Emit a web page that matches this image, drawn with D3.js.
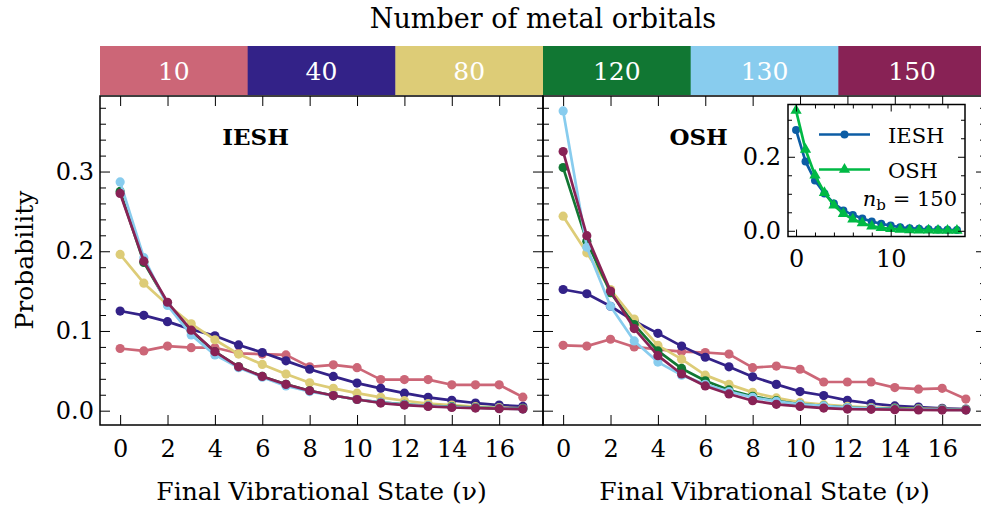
<!DOCTYPE html>
<html>
<head>
<meta charset="utf-8">
<script src="https://cdn.jsdelivr.net/npm/d3@7"></script>
<style>
  body { margin: 0; background: #fff; }
  svg { display: block; font-family: "DejaVu Serif", serif; }
</style>
</head>
<body>
<svg id="chart" width="981" height="510"></svg>
<script>
// --- Data ---
const states = [0, 1, 2, 3, 4, 5, 6, 7, 8, 9, 10, 11, 12, 13, 14, 15, 16, 17];
const orbitals = ["10", "40", "80", "120", "130", "150"];
const orbitalColors = ["#CC6677", "#332288", "#DDCC77", "#117733", "#88CCEE", "#882255"];

// IESH panel
const iesh10  = [0.078, 0.075, 0.081, 0.079, 0.079, 0.072, 0.071, 0.070, 0.055, 0.0575, 0.054, 0.039, 0.039, 0.039, 0.0325, 0.0325, 0.0325, 0.017];
const iesh40  = [0.125, 0.1196, 0.1117, 0.102, 0.094, 0.0825, 0.073, 0.0625, 0.052, 0.043, 0.0346, 0.028, 0.022, 0.0167, 0.013, 0.0096, 0.007, 0.0054];
const iesh80  = [0.196, 0.160, 0.133, 0.109, 0.089, 0.071, 0.058, 0.046, 0.035, 0.028, 0.022, 0.0167, 0.0125, 0.009, 0.007, 0.005, 0.004, 0.003];
const iesh120 = [0.275, 0.186, 0.135, 0.100, 0.074, 0.055, 0.043, 0.033, 0.025, 0.019, 0.014, 0.0104, 0.008, 0.006, 0.005, 0.004, 0.003, 0.0025];
const iesh130 = [0.287, 0.192, 0.132, 0.095, 0.070, 0.054, 0.042, 0.031, 0.024, 0.019, 0.014, 0.0104, 0.0075, 0.006, 0.0046, 0.0037, 0.003, 0.002];
const iesh150 = [0.2725, 0.1875, 0.136, 0.101, 0.074, 0.055, 0.043, 0.033, 0.025, 0.019, 0.014, 0.0096, 0.007, 0.0054, 0.004, 0.0033, 0.0025, 0.002];

// OSH panel
const osh10  = [0.082, 0.081, 0.0896, 0.080, 0.077, 0.074, 0.073, 0.071, 0.054, 0.056, 0.052, 0.036, 0.036, 0.036, 0.029, 0.027, 0.028, 0.0146];
const osh40  = [0.152, 0.1467, 0.131, 0.1125, 0.097, 0.081, 0.067, 0.055, 0.0425, 0.033, 0.024, 0.019, 0.013, 0.009, 0.006, 0.0046, 0.003, 0.002];
const osh80  = [0.244, 0.198, 0.152, 0.115, 0.082, 0.0646, 0.0446, 0.033, 0.023, 0.016, 0.0104, 0.0075, 0.0054, 0.004, 0.0033, 0.0025, 0.002, 0.0017];
const osh120 = [0.305, 0.2125, 0.148, 0.108, 0.075, 0.053, 0.0375, 0.026, 0.018, 0.0125, 0.008, 0.006, 0.004, 0.003, 0.0025, 0.002, 0.0017, 0.0013];
const osh130 = [0.376, 0.205, 0.131, 0.0875, 0.061, 0.0446, 0.033, 0.024, 0.0167, 0.0117, 0.008, 0.006, 0.004, 0.003, 0.002, 0.0017, 0.0013, 0.001];
const osh150 = [0.325, 0.2196, 0.150, 0.103, 0.069, 0.046, 0.031, 0.021, 0.0125, 0.008, 0.0054, 0.0033, 0.002, 0.0017, 0.0013, 0.001, 0.0008, 0.0008];

const ieshSeries = [iesh10, iesh40, iesh80, iesh120, iesh130, iesh150];
const oshSeries = [osh10, osh40, osh80, osh120, osh130, osh150];

// Tick values
const xTicks = [0, 2, 4, 6, 8, 10, 12, 14, 16];
const yTicks = [0, 0.1, 0.2, 0.3];
const yMinorTicks = [0.02, 0.04, 0.06, 0.08, 0.12, 0.14, 0.16, 0.18, 0.22, 0.24, 0.26, 0.28, 0.32, 0.34, 0.36, 0.38];
const insetXTicks = [0, 10];
const insetXMinor = [2, 4, 6, 8, 12, 14, 16];
const insetYTicks = [0, 0.2];
const insetYMinor = [0.05, 0.1, 0.15, 0.25, 0.3];

// --- Layout ---
const svg = d3.select("#chart");
const plotTop = 96, plotBottom = 425;
const panels = [
    { x0: 100, x1: 543, title: "IESH", series: ieshSeries, yLabels: true },
    { x0: 543, x1: 986, title: "OSH", series: oshSeries, yLabels: false }
];
const tickFont = 24;

// matplotlib-like 5% margins
function padded(lo, hi) {
    const m = (hi - lo) * 0.05;
    return [lo - m, hi + m];
}
const allVals = ieshSeries.concat(oshSeries).flat();
const xDomain = padded(d3.min(states), d3.max(states));
const yDomain = padded(d3.min(allVals), d3.max(allVals));

function styleTickText(sel, size) {
    sel.selectAll("text")
        .attr("font-family", "DejaVu Serif, serif")
        .attr("font-size", size)
        .attr("fill", "#000");
    sel.selectAll("line").attr("stroke", "#000").attr("stroke-width", 1);
}

// inward ticks on all four sides
function drawAxes(g, x, y, w, h, o) {
    const bx = g.append("g").attr("transform", `translate(0,${h})`)
        .call(d3.axisBottom(x).tickValues(o.xMajor).tickSize(-o.major).tickPadding(o.xPad)
            .tickFormat(o.xLabels ? d3.format("d") : ""));
    styleTickText(bx, tickFont);
    styleTickText(g.append("g").call(d3.axisTop(x).tickValues(o.xMajor).tickSize(-o.major).tickFormat("")));
    if (o.xMinor) {
        styleTickText(g.append("g").attr("transform", `translate(0,${h})`)
            .call(d3.axisBottom(x).tickValues(o.xMinor).tickSize(-o.minor).tickFormat("")));
        styleTickText(g.append("g").call(d3.axisTop(x).tickValues(o.xMinor).tickSize(-o.minor).tickFormat("")));
    }
    const ly = g.append("g")
        .call(d3.axisLeft(y).tickValues(o.yMajor).tickSize(-o.major).tickPadding(o.yPad)
            .tickFormat(o.yLabels ? d3.format(".1f") : ""));
    styleTickText(ly, tickFont);
    styleTickText(g.append("g").call(d3.axisLeft(y).tickValues(o.yMinor).tickSize(-o.minor).tickFormat("")));
    styleTickText(g.append("g").attr("transform", `translate(${w},0)`)
        .call(d3.axisRight(y).tickValues(o.yMajor).tickSize(-o.major).tickFormat("")));
    styleTickText(g.append("g").attr("transform", `translate(${w},0)`)
        .call(d3.axisRight(y).tickValues(o.yMinor).tickSize(-o.minor).tickFormat("")));
    g.selectAll(".domain").remove();
    g.append("rect")
        .attr("width", w).attr("height", h)
        .attr("fill", "none").attr("stroke", "#000").attr("stroke-width", 1.5);
}

// --- Panels ---
panels.forEach(p => {
    const w = p.x1 - p.x0, h = plotBottom - plotTop;
    const g = svg.append("g").attr("transform", `translate(${p.x0},${plotTop})`);
    const x = d3.scaleLinear().domain(xDomain).range([0, w]);
    const y = d3.scaleLinear().domain(yDomain).range([h, 0]);

    const line = d3.line().x((d, i) => x(states[i])).y(d => y(d));
    p.series.forEach((vals, k) => {
        const sg = g.append("g");
        sg.append("path").datum(vals)
            .attr("d", line)
            .attr("fill", "none")
            .attr("stroke", orbitalColors[k])
            .attr("stroke-width", 2.7)
            .attr("stroke-linejoin", "round");
        sg.selectAll("circle").data(vals).enter().append("circle")
            .attr("cx", (d, i) => x(states[i]))
            .attr("cy", d => y(d))
            .attr("r", 4.6)
            .attr("fill", orbitalColors[k]);
    });

    drawAxes(g, x, y, w, h, {
        xMajor: xTicks, yMajor: yTicks, yMinor: yMinorTicks,
        major: 10, minor: 6, xPad: 15, yPad: 6,
        xLabels: true, yLabels: p.yLabels
    });

    g.append("text")
        .attr("x", x(5.72)).attr("y", 145 - plotTop)
        .attr("text-anchor", "middle")
        .attr("font-size", 23).attr("font-weight", "bold")
        .text(p.title);

    svg.append("text")
        .attr("x", (p.x0 + p.x1) / 2)
        .attr("y", 500)
        .attr("text-anchor", "middle")
        .attr("font-size", 25)
        .text("Final Vibrational State (ν)");
});

// y label
svg.append("text")
    .attr("transform", "translate(33,260) rotate(-90)")
    .attr("text-anchor", "middle")
    .attr("font-size", 25)
    .text("Probability");

// --- Colour bar ---
const cb = d3.scaleBand().domain(orbitals).range([100, 986]);
const cbg = svg.append("g");
cbg.selectAll("rect").data(orbitals).enter().append("rect")
    .attr("x", d => cb(d)).attr("y", 46)
    .attr("width", cb.bandwidth() + 0.5).attr("height", 49)
    .attr("fill", (d, i) => orbitalColors[i]);
cbg.selectAll("text").data(orbitals).enter().append("text")
    .attr("x", d => cb(d) + cb.bandwidth() / 2)
    .attr("y", 80)
    .attr("text-anchor", "middle")
    .attr("font-size", 25)
    .attr("fill", "#fff")
    .text(d => d);
svg.append("text")
    .attr("x", 543).attr("y", 28)
    .attr("text-anchor", "middle")
    .attr("font-size", 27)
    .text("Number of metal orbitals");

// --- Inset (n_b = 150) ---
const inset = { x0: 788, x1: 965, y0: 104.5, y1: 236.5 };
const iw = inset.x1 - inset.x0, ih = inset.y1 - inset.y0;
const ig = svg.append("g").attr("transform", `translate(${inset.x0},${inset.y0})`);
ig.append("rect").attr("width", iw).attr("height", ih).attr("fill", "#fff");
const ix = d3.scaleLinear().domain(xDomain).range([0, iw]);
const iy = d3.scaleLinear().domain(padded(d3.min(iesh150.concat(osh150)), d3.max(iesh150.concat(osh150)))).range([ih, 0]);
const iline = d3.line().x((d, i) => ix(states[i])).y(d => iy(d));
const ieshBlue = "#0C5DA5", oshGreen = "#00B945";

ig.append("path").datum(iesh150).attr("d", iline)
    .attr("fill", "none").attr("stroke", ieshBlue).attr("stroke-width", 2.7);
ig.selectAll(".ic").data(iesh150).enter().append("circle").attr("class", "ic")
    .attr("cx", (d, i) => ix(states[i])).attr("cy", d => iy(d)).attr("r", 4)
    .attr("fill", ieshBlue);
ig.append("path").datum(osh150).attr("d", iline)
    .attr("fill", "none").attr("stroke", oshGreen).attr("stroke-width", 2.7);
const tri = d3.symbol().type(d3.symbolTriangle).size(55);
ig.selectAll(".it").data(osh150).enter().append("path").attr("class", "it")
    .attr("transform", (d, i) => `translate(${ix(states[i])},${iy(d)})`)
    .attr("d", tri).attr("fill", oshGreen);

drawAxes(ig, ix, iy, iw, ih, {
    xMajor: insetXTicks, xMinor: insetXMinor, yMajor: insetYTicks, yMinor: insetYMinor,
    major: 7, minor: 4, xPad: 13, yPad: 7,
    xLabels: true, yLabels: true
});

// legend
const legend = [
    { label: "IESH", color: ieshBlue, shape: "circle", y: 134.5 },
    { label: "OSH", color: oshGreen, shape: "triangle", y: 169.5 }
];
legend.forEach(l => {
    svg.append("line").attr("x1", 819).attr("x2", 870).attr("y1", l.y).attr("y2", l.y)
        .attr("stroke", l.color).attr("stroke-width", 2.7);
    if (l.shape === "circle") {
        svg.append("circle").attr("cx", 844.5).attr("cy", l.y).attr("r", 4).attr("fill", l.color);
    } else {
        svg.append("path").attr("transform", `translate(844.5,${l.y})`).attr("d", tri).attr("fill", l.color);
    }
    svg.append("text").attr("x", 888).attr("y", l.y + 8.5)
        .attr("font-size", 21).text(l.label);
});
const nb = svg.append("text").attr("x", 957).attr("y", 206).attr("text-anchor", "end").attr("font-size", 21);
nb.append("tspan").attr("font-style", "italic").text("n");
nb.append("tspan").attr("font-size", 15).attr("dy", 4).text("b");
nb.append("tspan").attr("dy", -4).text(" = 150");
</script>
</body>
</html>
